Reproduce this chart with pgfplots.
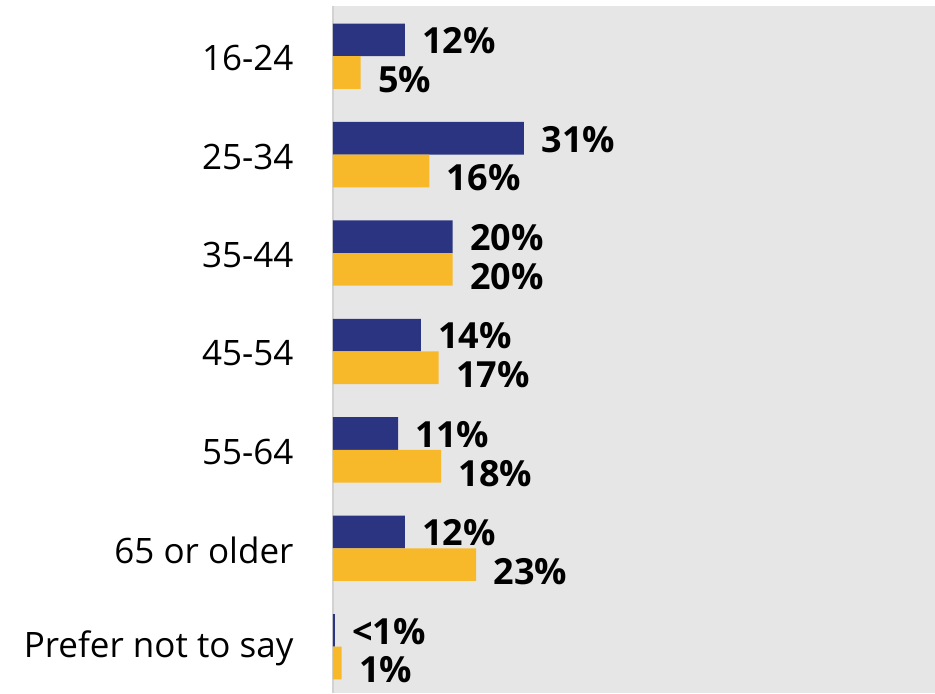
\documentclass[border=0pt]{standalone}
\usepackage{fontspec}
\setmainfont{Open Sans}
\usepackage{pgfplots}
\pgfplotsset{compat=1.18}
\usepackage{pgfplotstable}
\definecolor{navy}{HTML}{2B3480}
\definecolor{amber}{HTML}{F7B829}
\definecolor{bggray}{HTML}{E6E6E6}
\definecolor{axgray}{HTML}{D2D2D2}

\pgfplotstableread{
x y label
11.7 -0.166 12\%
31.1 0.834 31\%
19.5 1.834 20\%
14.3 2.834 14\%
10.6 3.834 11\%
11.7 4.834 12\%
0.3 5.834 <1\%
}\navydata

\pgfplotstableread{
x y label
4.5 0.166 5\%
15.7 1.166 16\%
19.5 2.166 20\%
17.2 3.166 17\%
17.6 4.166 18\%
23.3 5.166 23\%
1.4 6.166 1\%
}\amberdata

\begin{document}
\begin{tikzpicture}
\begin{axis}[
  width=602pt, height=687pt, scale only axis,
  xmin=0, xmax=98, ymin=-0.51, ymax=6.47, y dir=reverse,
  xbar, bar width=32.7pt, bar shift=0pt,
  ytick={0,1,2,3,4,5,6},
  yticklabels={16-24,25-34,35-44,45-54,55-64,65 or older,Prefer not to say},
  xtick=\empty,
  major tick length=0pt,
  axis line style={draw=none},
  axis background/.style={fill=bggray},
  yticklabel style={font=\fontsize{35}{40}\selectfont, anchor=east, xshift=-36pt, yshift=-2pt},
  point meta=explicit symbolic,
  nodes near coords,
  nodes near coords style={font=\fontsize{36}{40}\selectfont\bfseries, anchor=west, xshift=14pt, yshift=-1pt},
  clip=false,
]
\draw[axgray, line width=1.5pt] (rel axis cs:0,0) -- (rel axis cs:0,1);
\addplot[fill=navy, draw=none] table[x=x, y=y, meta=label] {\navydata};
\addplot[fill=amber, draw=none, nodes near coords style={yshift=-6pt}] table[x=x, y=y, meta=label] {\amberdata};
\end{axis}
\path ([xshift=-333pt]current axis.south west) rectangle ([yshift=6pt]current axis.north east);
\end{tikzpicture}
\end{document}
